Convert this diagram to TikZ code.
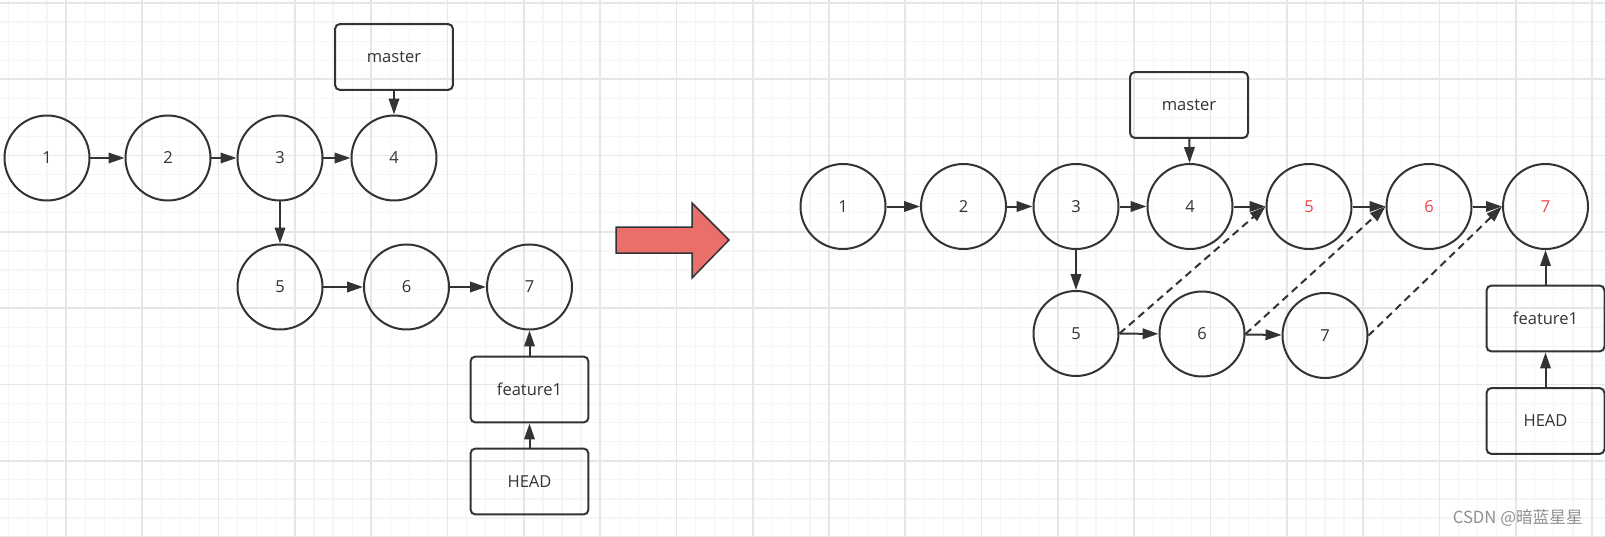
\documentclass[tikz,border=0pt]{standalone}
\usepackage{fontspec}
\setmainfont{Open Sans}
\newfontfamily\cjkfont{Noto Sans CJK SC}
\usetikzlibrary{arrows.meta}

\definecolor{ink}{RGB}{51,51,51}
\definecolor{gridminor}{RGB}{245,245,245}
\definecolor{gridmajor}{RGB}{230,230,230}
\definecolor{newred}{RGB}{234,72,72}
\definecolor{bigarrow}{RGB}{234,110,106}
\definecolor{markgray}{RGB}{145,145,145}

\tikzset{
  commit/.style={circle, draw=ink, line width=0.04cm, minimum size=1.70cm,
    inner sep=0pt, text=ink, font=\fontsize{9.4}{11}\selectfont},
  refbox/.style={rectangle, rounded corners=0.1cm, draw=ink, line width=0.04cm,
    minimum width=2.36cm, minimum height=1.32cm, text=ink,
    font=\fontsize{9.4}{11}\selectfont},
  conn/.style={->, draw=ink, line width=0.04cm},
  dconn/.style={conn, dash pattern=on 0.15cm off 0.1cm},
}

\begin{document}
\begin{tikzpicture}[x=0.02cm,y=-0.02cm,>={Triangle[length=0.32cm,width=0.21cm]}]
    \useasboundingbox (0,0) rectangle (1605,537);
    \fill[white] (0,0) rectangle (1605,537);

    % grid
    \begin{scope}
    \clip (0,0) rectangle (1605,537);
    \foreach \i in {0,...,84}{\draw[gridminor, line width=0.024cm] ({8.8+19.075*\i},0) -- ++(0,537);}
    \foreach \j in {0,...,28}{\draw[gridminor, line width=0.024cm] (0,{3+19.075*\j}) -- ++(1605,0);}
    \foreach \i in {-1,...,20}{\draw[gridmajor, line width=0.034cm] ({66+76.3*\i},0) -- ++(0,537);}
    \foreach \j in {0,...,7}{\draw[gridmajor, line width=0.034cm] (0,{3+76.3*\j}) -- ++(1605,0);}
    \end{scope}

    % before
    \node[commit](l1) at (47,158) {1};
    \node[commit](l2) at (168,158) {2};
    \node[commit](l3) at (280,158) {3};
    \node[commit](l4) at (394,158) {4};
    \node[refbox](lmaster) at (394,57) {master};
    \node[commit](l5) at (280,287) {5};
    \node[commit](l6) at (406.5,287) {6};
    \node[commit](l7) at (529.5,287) {7};
    \node[refbox](lfeat) at (529.5,389.5) {feature1};
    \node[refbox](lhead) at (529.5,481.5) {HEAD};

    \foreach \k/\l in {l1/l2, l2/l3, l3/l4, l5/l6, l6/l7, lmaster/l4, l3/l5, lfeat/l7, lhead/lfeat}{
        \draw[conn](\k)--(\l);
    }

    \draw[fill=bigarrow, draw=ink, line width=0.03cm, line join=miter]
        (616,227) -- (692,227) -- (692,203) -- (729,240) -- (692,278) -- (692,253) -- (616,253) -- cycle;

    % after
    \node[commit](r1) at (843,206.5) {1};
    \node[commit](r2) at (963.5,206.5) {2};
    \node[commit](r3) at (1076,206.5) {3};
    \node[commit](r4) at (1190,206.5) {4};
    \node[commit, text=newred](r5) at (1309,206.5) {5};
    \node[commit, text=newred](r6) at (1429,206.5) {6};
    \node[commit, text=newred](r7) at (1545.5,206.5) {7};
    \node[refbox](rmaster) at (1189,105) {master};
    \node[commit](s5) at (1076,333.5) {5};
    \node[commit](s6) at (1202,334) {6};
    \node[commit](s7) at (1325,335.5) {7};
    \node[refbox](rfeat) at (1545.5,318.5) {feature1};
    \node[refbox](rhead) at (1545.5,421) {HEAD};

    \foreach \k/\l in {r1/r2, r2/r3, r3/r4, r4/r5, r5/r6, r6/r7, s5/s6, s6/s7, r3/s5, rmaster/r4, rfeat/r7, rhead/rfeat}{
        \draw[conn](\k)--(\l);
    }
    \foreach \k/\l in {s5/r5, s6/r6, s7/r7}{\draw[dconn](\k.east)--(\l.west);}

    \node[anchor=east, text=markgray, font=\cjkfont\fontsize{9.5}{11}\selectfont](mark) at (1589,518) {CSDN @暗蓝星星};
\end{tikzpicture}
\end{document}
